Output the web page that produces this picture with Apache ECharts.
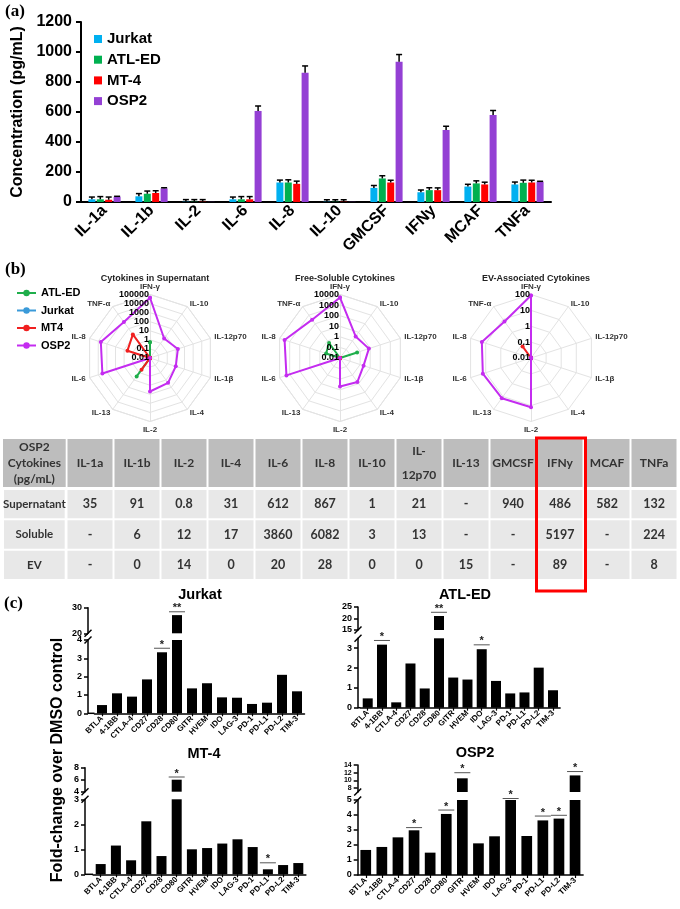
<!DOCTYPE html>
<html><head><meta charset="utf-8">
<script src="https://cdn.jsdelivr.net/npm/echarts@6/dist/echarts.min.js"></script>
<style>html,body{margin:0;padding:0;background:#fff}#c{width:680px;height:909px}</style>
</head><body><div id="c"></div>
<script>
// ================= DATA =================
// Panel (a)
const aCategories = ['IL-1a','IL-1b','IL-2','IL-6','IL-8','IL-10','GMCSF','IFNy','MCAF','TNFa'];
const aSeriesNames = ['Jurkat','ATL-ED','MT-4','OSP2'];
const aJurkat    = [18, 38, 2, 18, 130, 2, 94, 65, 103, 117];
const aJurkatErr = [15, 18, 14, 15, 16, 13, 16, 15, 15, 16];
const aATLED     = [18, 55, 2, 18, 130, 2, 157, 79, 124, 128];
const aATLEDErr  = [18, 18, 14, 18, 18, 13, 18, 16, 17, 18];
const aMT4       = [15, 60, 2, 18, 121, 2, 130, 79, 117, 130];
const aMT4Err    = [18, 15, 14, 18, 18, 13, 15, 15, 15, 15];
const aOSP2      = [35, 91, 0.8, 607, 862, 1, 935, 480, 580, 135];
const aOSP2Err   = [3, 4, 0, 33, 45, 0, 48, 25, 30, 3];
const aYTicks = [0, 200, 400, 600, 800, 1000, 1200];

// Panel (b) radar charts (axes listed clockwise from the top)
const radarAxes = ['IFN-γ','IL-10','IL-12p70','IL-1β','IL-4','IL-2','IL-13','IL-6','IL-8','TNF-α'];
const radarTitles = ['Cytokines in Supernatant','Free-Soluble Cytokines','EV-Associated Cytokines'];
const radarMinTick = [0.01, 0.01, 0.01];
const radarMaxTick = [100000, 10000, 100];
const radarLegend = ['ATL-ED','Jurkat','MT4','OSP2'];
const supATLED  = [0.54, 0, 0, 0, 0, 0, 3.2, 0, 0, 0];
const supJurkat = [0, 0, 0, 0, 0, 0, 0, 0, 0, 0];
const supMT4    = [0, 0, 0, 0, 0, 0, 0.39, 0, 4.1, 16.5];
const supOSP2   = [44000, 4.5, 17, 9.7, 24.5, 49, 0, 3300, 5000, 780];
const solATLED  = [0, 0, 0.5, 0, 0, 0, 0, 0, 0.24, 0.57];
const solJurkat = [0, 0, 0, 0, 0, 0, 0, 0, 0, 0];
const solMT4    = [0, 0, 0, 0, 0, 0, 0, 0, 0, 0];
const solOSP2   = [5200, 3.3, 7.4, 2.2, 6.3, 4.9, 0, 2100, 3200, 300];
const evATLED   = [0, 0, 0, 0, 0, 0, 0, 0, 0, 0];
const evJurkat  = [0, 0, 0, 0, 0, 0, 0, 0, 0, 0];
const evMT4     = [0, 0, 0, 0, 0, 0, 0, 0, 0, 0.08];
const evOSP2    = [87, 0, 0, 0, 0, 12.7, 13.5, 15.5, 18, 6.9];

// Table
const tableCorner = 'OSP2\nCytokines\n(pg/mL)';
const tableCols = ['IL-1a','IL-1b','IL-2','IL-4','IL-6','IL-8','IL-10','IL-12p70','IL-13','GMCSF','IFNy','MCAF','TNFa'];
const tableRows = ['Supernatant','Soluble','EV'];
const tableSupernatant = ['35','91','0.8','31','612','867','1','21','-','940','486','582','132'];
const tableSoluble     = ['-','6','12','17','3860','6082','3','13','-','-','5197','-','224'];
const tableEV          = ['-','0','14','0','20','28','0','0','15','-','89','-','8'];
const tableHighlight = 'IFNy';

// Panel (c)
const cCategories = ['BTLA','4-1BB','CTLA-4','CD27','CD28','CD80','GITR','HVEM','IDO','LAG-3','PD-1','PD-L1','PD-L2','TIM-3'];
const cTitles = ['Jurkat','ATL-ED','MT-4','OSP2'];
const jurkatFold = [0.45, 1.09, 0.91, 1.85, 3.33, 27.1, 1.36, 1.64, 0.87, 0.85, 0.51, 0.58, 2.1, 1.2];
const atledFold  = [0.47, 3.18, 0.27, 2.23, 0.97, 21.1, 1.52, 1.42, 2.95, 1.35, 0.72, 0.77, 2.02, 0.88];
const mt4Fold    = [0.41, 1.15, 0.56, 2.12, 0.73, 6.0, 1.0, 1.05, 1.23, 1.4, 1.09, 0.2, 0.37, 0.45];
const osp2Fold   = [1.67, 1.87, 2.51, 2.98, 1.49, 4.07, 10.55, 2.11, 2.58, 5.0, 2.6, 3.64, 3.76, 11.3];
const jurkatSig = [['CD28', 3.55, '*'], ['CD80', 28.4, '**']];
const atledSig  = [['4-1BB', 3.39, '*'], ['CD80', 22.7, '**'], ['IDO', 3.17, '*']];
const mt4Sig    = [['CD80', 6.45, '*'], ['PD-L1', 0.46, '*']];
const osp2Sig   = [['CD27', 3.16, '*'], ['CD80', 4.33, '*'], ['GITR', 12.0, '*'], ['LAG-3', 5.1, '*'], ['PD-L1', 3.93, '*'], ['PD-L2', 3.98, '*'], ['TIM-3', 12.3, '*']];
const cLowerTicks = [[0,1,2,3,4], [0,1,2,3], [0,1,2,3], [0,1,2,3,4,5]];
const cUpperTicks = [[20,30], [15,20,25], [4,6,8], [8,10,12,14]];

// ================= STYLE / LAYOUT =================
const SFONT = "'Liberation Sans', Arial, sans-serif";
const TFONT = "Lato, 'Open Sans', sans-serif";
const aColors = ['#00b0f0', '#00b050', '#ff0000', '#9440d4'];
const bColors = {'ATL-ED':'#1fae4b', 'Jurkat':'#3a9ad9', 'MT4':'#f02020', 'OSP2':'#c42cf0'};
const radarCenters = [[150, 358], [340, 358], [531, 358]];
const RADAR_R = 63.5;
const RADAR_CCW = true; // radar component lays indicators counter-clockwise
const cLayout = [
  {axisX: 88,    left: 94.5,  width: 210,   lowerTop: 640,   lowerH: 73.3, upperTop: 607.7, upperH: 25.6, lowerMax: 4,   upperMin: 20, upperMax: 30, barW: 10, tx: 195, ty: 582, upFont: 9, upLH: 9},
  {axisX: 358,   left: 360.6, width: 199.5, lowerTop: 638.3, lowerH: 69.4, upperTop: 607,   upperH: 23,   lowerMax: 3.5, upperMin: 15, upperMax: 25, barW: 10, tx: 460, ty: 582, upFont: 9, upLH: 9},
  {axisX: 85,    left: 93.1,  width: 212.8, lowerTop: 799.3, lowerH: 75,   upperTop: 767.7, upperH: 24,   lowerMax: 3,   upperMin: 4,  upperMax: 8,  barW: 10, tx: 199, ty: 741, upFont: 9, upLH: 9},
  {axisX: 357.7, left: 357.7, width: 225.4, lowerTop: 800,   lowerH: 75,   upperTop: 765,   upperH: 27,   lowerMax: 5,   upperMin: 7,  upperMax: 14, barW: 10.7, tx: 470, ty: 740, upFont: 7, upLH: 7}
];

// ================= BUILD =================
const grid = [], xAxis = [], yAxis = [], series = [], graphic = [], title = [];
const aValues = [aJurkat, aATLED, aMT4, aOSP2];
const aErrors = [aJurkatErr, aATLEDErr, aMT4Err, aOSP2Err];
const BAR_W = 7, BAR_GAP = 0.2;

// ---- Panel (a) grid 0
grid.push({left: 81, top: 22, width: 470, height: 180});
xAxis.push({gridIndex: 0, type: 'category', data: aCategories,
  axisLine: {lineStyle: {color: '#000', width: 2}}, axisTick: {show: false},
  axisLabel: {interval: 0, rotate: 45, fontSize: 16, fontWeight: 'bold', color: '#000', margin: 6, fontFamily: SFONT}});
yAxis.push({gridIndex: 0, type: 'value', min: aYTicks[0], max: aYTicks[aYTicks.length - 1], interval: aYTicks[1] - aYTicks[0],
  axisLine: {show: true, lineStyle: {color: '#000', width: 2}},
  axisTick: {show: true, length: 5, lineStyle: {color: '#000', width: 2}},
  splitLine: {show: false},
  axisLabel: {fontSize: 16, fontWeight: 'bold', color: '#000', margin: 9, fontFamily: SFONT, formatter: v => String(v)},
  name: 'Concentration (pg/mL)', nameLocation: 'middle', nameGap: 50,
  nameTextStyle: {fontSize: 16, fontWeight: 'bold', color: '#000', fontFamily: SFONT}});
aSeriesNames.forEach((name, k) => {
  series.push({type: 'bar', name, xAxisIndex: 0, yAxisIndex: 0, data: aValues[k],
    barWidth: BAR_W, barGap: (BAR_GAP * 100) + '%', itemStyle: {color: aColors[k]}, z: 2});
});
aSeriesNames.forEach((name, k) => {
  const off = (k - 1.5) * BAR_W * (1 + BAR_GAP);
  series.push({type: 'custom', xAxisIndex: 0, yAxisIndex: 0, z: 3, silent: true,
    data: aValues[k].map((v, i) => [i, v, aErrors[k][i]]),
    renderItem: (params, api) => {
      const e = api.value(2);
      if (!(e > 0)) return null;
      const b = api.coord([api.value(0), api.value(1)]);
      const t = api.coord([api.value(0), api.value(1) + e]);
      const x = b[0] + off;
      return {type: 'group', children: [
        {type: 'line', shape: {x1: x, y1: b[1], x2: x, y2: t[1]}, style: {stroke: '#000', lineWidth: 1.5}},
        {type: 'line', shape: {x1: x - 3, y1: t[1], x2: x + 3, y2: t[1]}, style: {stroke: '#000', lineWidth: 1.5}}
      ]};
    }});
});

// ---- Panel (b) radars + polars
const radarSets = [
  {'ATL-ED': supATLED, 'Jurkat': supJurkat, 'MT4': supMT4, 'OSP2': supOSP2},
  {'ATL-ED': solATLED, 'Jurkat': solJurkat, 'MT4': solMT4, 'OSP2': solOSP2},
  {'ATL-ED': evATLED, 'Jurkat': evJurkat, 'MT4': evMT4, 'OSP2': evOSP2}
];
const indicatorOrder = RADAR_CCW ? [radarAxes[0]].concat(radarAxes.slice(1).reverse()) : radarAxes.slice();
const radar = [], polar = [], angleAxis = [], radiusAxis = [];
radarCenters.forEach((c, k) => {
  const decades = Math.round(Math.log10(radarMaxTick[k] / radarMinTick[k]));
  radar.push({center: c, radius: RADAR_R, startAngle: 90, splitNumber: decades, shape: 'polygon',
    indicator: indicatorOrder.map(n => ({name: n, min: 0, max: 1})),
    axisName: {color: '#333', fontSize: 8, fontWeight: 'bold', fontFamily: SFONT}, nameGap: 4,
    splitLine: {lineStyle: {color: '#e3e3e3', width: 1}}, splitArea: {show: false},
    axisLine: {lineStyle: {color: '#e3e3e3', width: 1}}, axisTick: {show: false}, axisLabel: {show: false}});
  polar.push({center: c, radius: RADAR_R});
  angleAxis.push({polarIndex: k, type: 'value', min: 0, max: 360, startAngle: 90, clockwise: true, show: false});
  radiusAxis.push({polarIndex: k, type: 'log', logBase: 10, min: radarMinTick[k], max: radarMaxTick[k], splitNumber: decades,
    axisLine: {show: false}, axisTick: {show: false}, splitLine: {show: false},
    axisLabel: {show: true, fontSize: 9, fontWeight: 'bold', color: '#000', margin: 1, fontFamily: SFONT,
      showMinLabel: true, showMaxLabel: true,
      formatter: v => String(+(+v).toPrecision(3))}, z: 5});
  title.push({text: radarTitles[k], left: c[0], top: 269, textAlign: 'center',
    textStyle: {fontSize: 9, fontWeight: 'bold', color: '#222', fontFamily: SFONT}});
  const step = 360 / radarAxes.length;
  radarLegend.forEach(name => {
    const vals = radarSets[k][name];
    const pts = vals.map((v, i) => [Math.max(v, radarMinTick[k]), i * step]);
    pts.push([pts[0][0], 360]);
    series.push({type: 'line', name: 'b:' + name, coordinateSystem: 'polar', polarIndex: k,
      data: pts, symbol: 'circle', symbolSize: 4, showSymbol: true,
      lineStyle: {color: bColors[name], width: 2}, itemStyle: {color: bColors[name]}, z: 4, silent: true});
  });
});

// ---- Table: grid 1 (row headers), grid 2 (values)
const TBL_TOP = 489, TBL_H = 91;
grid.push({left: 1, top: TBL_TOP, width: 64.7, height: TBL_H});
grid.push({left: 66.5, top: TBL_TOP, width: 611, height: TBL_H});
const headerLabel = (boxW) => ({interval: 0, margin: 2, backgroundColor: '#bdbdbd', width: boxW, height: 48, align: 'center',
  formatter: v => {
    const lines = v.indexOf('\n') >= 0 ? v.split('\n') : (v.length > 6 ? v.replace('-', '-\n').split('\n') : [v]);
    const tag = lines.length === 1 ? 'l1' : (lines.length === 2 ? 'l2' : 'l3');
    return lines.map(s => '{' + tag + '|' + s + '}').join('\n');
  },
  rich: {
    l1: {lineHeight: 48, fontSize: 12, fontWeight: 'bold', color: '#333', fontFamily: TFONT, align: 'center'},
    l2: {lineHeight: 24, fontSize: 12, fontWeight: 'bold', color: '#333', fontFamily: TFONT, align: 'center'},
    l3: {lineHeight: 16, fontSize: 12, fontWeight: 'bold', color: '#333', fontFamily: TFONT, align: 'center'}
  }});
xAxis.push({gridIndex: 1, type: 'category', position: 'top', data: [tableCorner],
  axisLine: {show: false}, axisTick: {show: false}, axisLabel: headerLabel(62.7)});
yAxis.push({gridIndex: 1, type: 'category', data: tableRows, inverse: true, show: false});
xAxis.push({gridIndex: 2, type: 'category', position: 'top', data: tableCols,
  axisLine: {show: false}, axisTick: {show: false}, axisLabel: headerLabel(45)});
yAxis.push({gridIndex: 2, type: 'category', data: tableRows, inverse: true, show: false});
function cellRenderer(texts, size) {
  return (params, api) => {
    const p = api.coord([api.value(0), api.value(1)]);
    const s = api.size([1, 1]);
    return {type: 'group', children: [
      {type: 'rect', shape: {x: p[0] - s[0] / 2 + 1, y: p[1] - s[1] / 2 + 1, width: s[0] - 2, height: s[1] - 2}, style: {fill: '#e8e8e8'}},
      {type: 'text', x: p[0], y: p[1], style: {text: texts[params.dataIndex], align: 'center', verticalAlign: 'middle',
        font: 'bold ' + size + 'px ' + TFONT, fill: '#333'}}
    ]};
  };
}
series.push({type: 'custom', xAxisIndex: 1, yAxisIndex: 1, silent: true,
  data: tableRows.map((r, i) => [0, i]), renderItem: cellRenderer(tableRows, 11.5)});
const bodyTexts = [], bodyData = [];
[tableSupernatant, tableSoluble, tableEV].forEach((row, r) => row.forEach((t, c) => { bodyData.push([c, r]); bodyTexts.push(t); }));
series.push({type: 'custom', xAxisIndex: 2, yAxisIndex: 2, silent: true, data: bodyData, renderItem: cellRenderer(bodyTexts, 12.5)});
series.push({type: 'custom', xAxisIndex: 2, yAxisIndex: 2, silent: true, z: 10,
  data: [[tableCols.indexOf(tableHighlight), 0]],
  renderItem: (params, api) => {
    const cx = api.coord([api.value(0), 0])[0];
    const bw = api.size([1, 0])[0];
    const cs = params.coordSys;
    return {type: 'rect', shape: {x: cx - bw / 2, y: cs.y - 51, width: bw + 2, height: cs.height + 51 + 11},
      style: {fill: 'none', stroke: '#ff0000', lineWidth: 3}};
  }});

// ---- Panel (c): grids 3..10
const cFolds = [jurkatFold, atledFold, mt4Fold, osp2Fold];
const cSigs = [jurkatSig, atledSig, mt4Sig, osp2Sig];
function yCfg(g, min, max, ticks, offset, fs, lh) {
  return {gridIndex: g, type: 'value', min, max, offset, splitLine: {show: false},
    axisLine: {show: true, onZero: false, lineStyle: {color: '#000', width: 1.5}},
    axisTick: {show: true, length: 4, customValues: ticks, lineStyle: {color: '#000', width: 1.5}},
    axisLabel: {customValues: ticks, hideOverlap: false,
      fontSize: fs, fontWeight: 'bold', color: '#000', margin: 6, fontFamily: SFONT, lineHeight: lh}};
}
function sigRenderer(list) {
  return (params, api) => {
    const p = api.coord([api.value(0), api.value(1)]);
    return {type: 'group', children: [
      {type: 'line', shape: {x1: p[0] - 8, y1: p[1], x2: p[0] + 8, y2: p[1]}, style: {stroke: '#555', lineWidth: 1}},
      {type: 'text', x: p[0], y: p[1] + 2, style: {text: list[params.dataIndex][2], align: 'center', verticalAlign: 'bottom',
        font: 'bold 11px ' + SFONT, fill: '#222'}}
    ]};
  };
}
cLayout.forEach((L, k) => {
  const gl = grid.length, gu = gl + 1;
  grid.push({left: L.left, top: L.lowerTop, width: L.width, height: L.lowerH});
  grid.push({left: L.left, top: L.upperTop, width: L.width, height: L.upperH});
  xAxis.push({gridIndex: gl, type: 'category', data: cCategories,
    axisLine: {lineStyle: {color: '#000', width: 1.5}},
    axisTick: {show: true, alignWithLabel: true, length: 3, lineStyle: {color: '#000', width: 1.2}},
    axisLabel: {interval: 0, rotate: 45, fontSize: 8, fontWeight: 'bold', color: '#000', margin: 4, fontFamily: SFONT}});
  xAxis.push({gridIndex: gu, type: 'category', data: cCategories, show: false});
  const off = L.left - L.axisX;
  yAxis.push(yCfg(gl, 0, L.lowerMax, cLowerTicks[k], off, 9, 9));
  yAxis.push(yCfg(gu, L.upperMin, L.upperMax, cUpperTicks[k], off, L.upFont, L.upLH));
  [gl, gu].forEach(g => series.push({type: 'bar', xAxisIndex: g, yAxisIndex: g, data: cFolds[k],
    barWidth: L.barW, itemStyle: {color: '#000'}, clip: true, silent: true}));
  const lowSig = cSigs[k].filter(s => s[1] < L.upperMin);
  const upSig = cSigs[k].filter(s => s[1] >= L.upperMin);
  [[gl, lowSig], [gu, upSig]].forEach(([g, list]) => {
    if (!list.length) return;
    series.push({type: 'custom', xAxisIndex: g, yAxisIndex: g, silent: true, z: 5,
      data: list.map(s => [cCategories.indexOf(s[0]), s[1]]), renderItem: sigRenderer(list)});
  });
  title.push({text: cTitles[k], left: L.tx, top: L.ty, textAlign: 'center',
    textStyle: {fontSize: 14.5, fontWeight: 'bold', color: '#000', fontFamily: SFONT}});
  // axis decorations: baseline continuation and break marks
  const base = L.lowerTop + L.lowerH;
  if (off > 0) graphic.push({type: 'line', shape: {x1: L.axisX, y1: base, x2: L.left, y2: base}, style: {stroke: '#000', lineWidth: 1.5}});
  [L.upperTop + L.upperH, L.lowerTop].forEach(y => graphic.push({type: 'line',
    shape: {x1: L.axisX - 3.5, y1: y + 3.5, x2: L.axisX + 3.5, y2: y - 3.5}, style: {stroke: '#000', lineWidth: 1.5}}));
});

// ---- panel letters & shared title
const letter = (t, x, y) => ({type: 'text', x, y, style: {text: t, font: 'bold 17px "Liberation Serif", "Times New Roman", serif', fill: '#000'}});
graphic.push(letter('(a)', 5, 3), letter('(b)', 5, 261), letter('(c)', 4, 595));
graphic.push({type: 'text', x: 58, y: 760, rotation: Math.PI / 2,
  style: {text: 'Fold-change over DMSO control', align: 'center', verticalAlign: 'middle', font: 'bold 16px ' + SFONT, fill: '#000'}});

const option = {
  animation: false,
  backgroundColor: '#fff',
  title, grid, xAxis, yAxis, radar, polar, angleAxis, radiusAxis, series, graphic,
  legend: [
    {orient: 'vertical', left: 89, top: 26, icon: 'rect', itemWidth: 8, itemHeight: 8, itemGap: 4.7,
      data: aSeriesNames, selectedMode: false,
      textStyle: {fontSize: 15, fontWeight: 'bold', color: '#000', lineHeight: 16, fontFamily: SFONT}},
    {orient: 'vertical', left: 11, top: 282, itemWidth: 19, itemHeight: 8, itemGap: 5.5,
      data: radarLegend.map(n => 'b:' + n), selectedMode: false, formatter: n => n.slice(2),
      textStyle: {fontSize: 11, fontWeight: 'bold', color: '#000', lineHeight: 12, fontFamily: SFONT}}
  ]
};
const chart = echarts.init(document.getElementById('c'), null, {width: 680, height: 909});
chart.setOption(option);
</script>
</body></html>
